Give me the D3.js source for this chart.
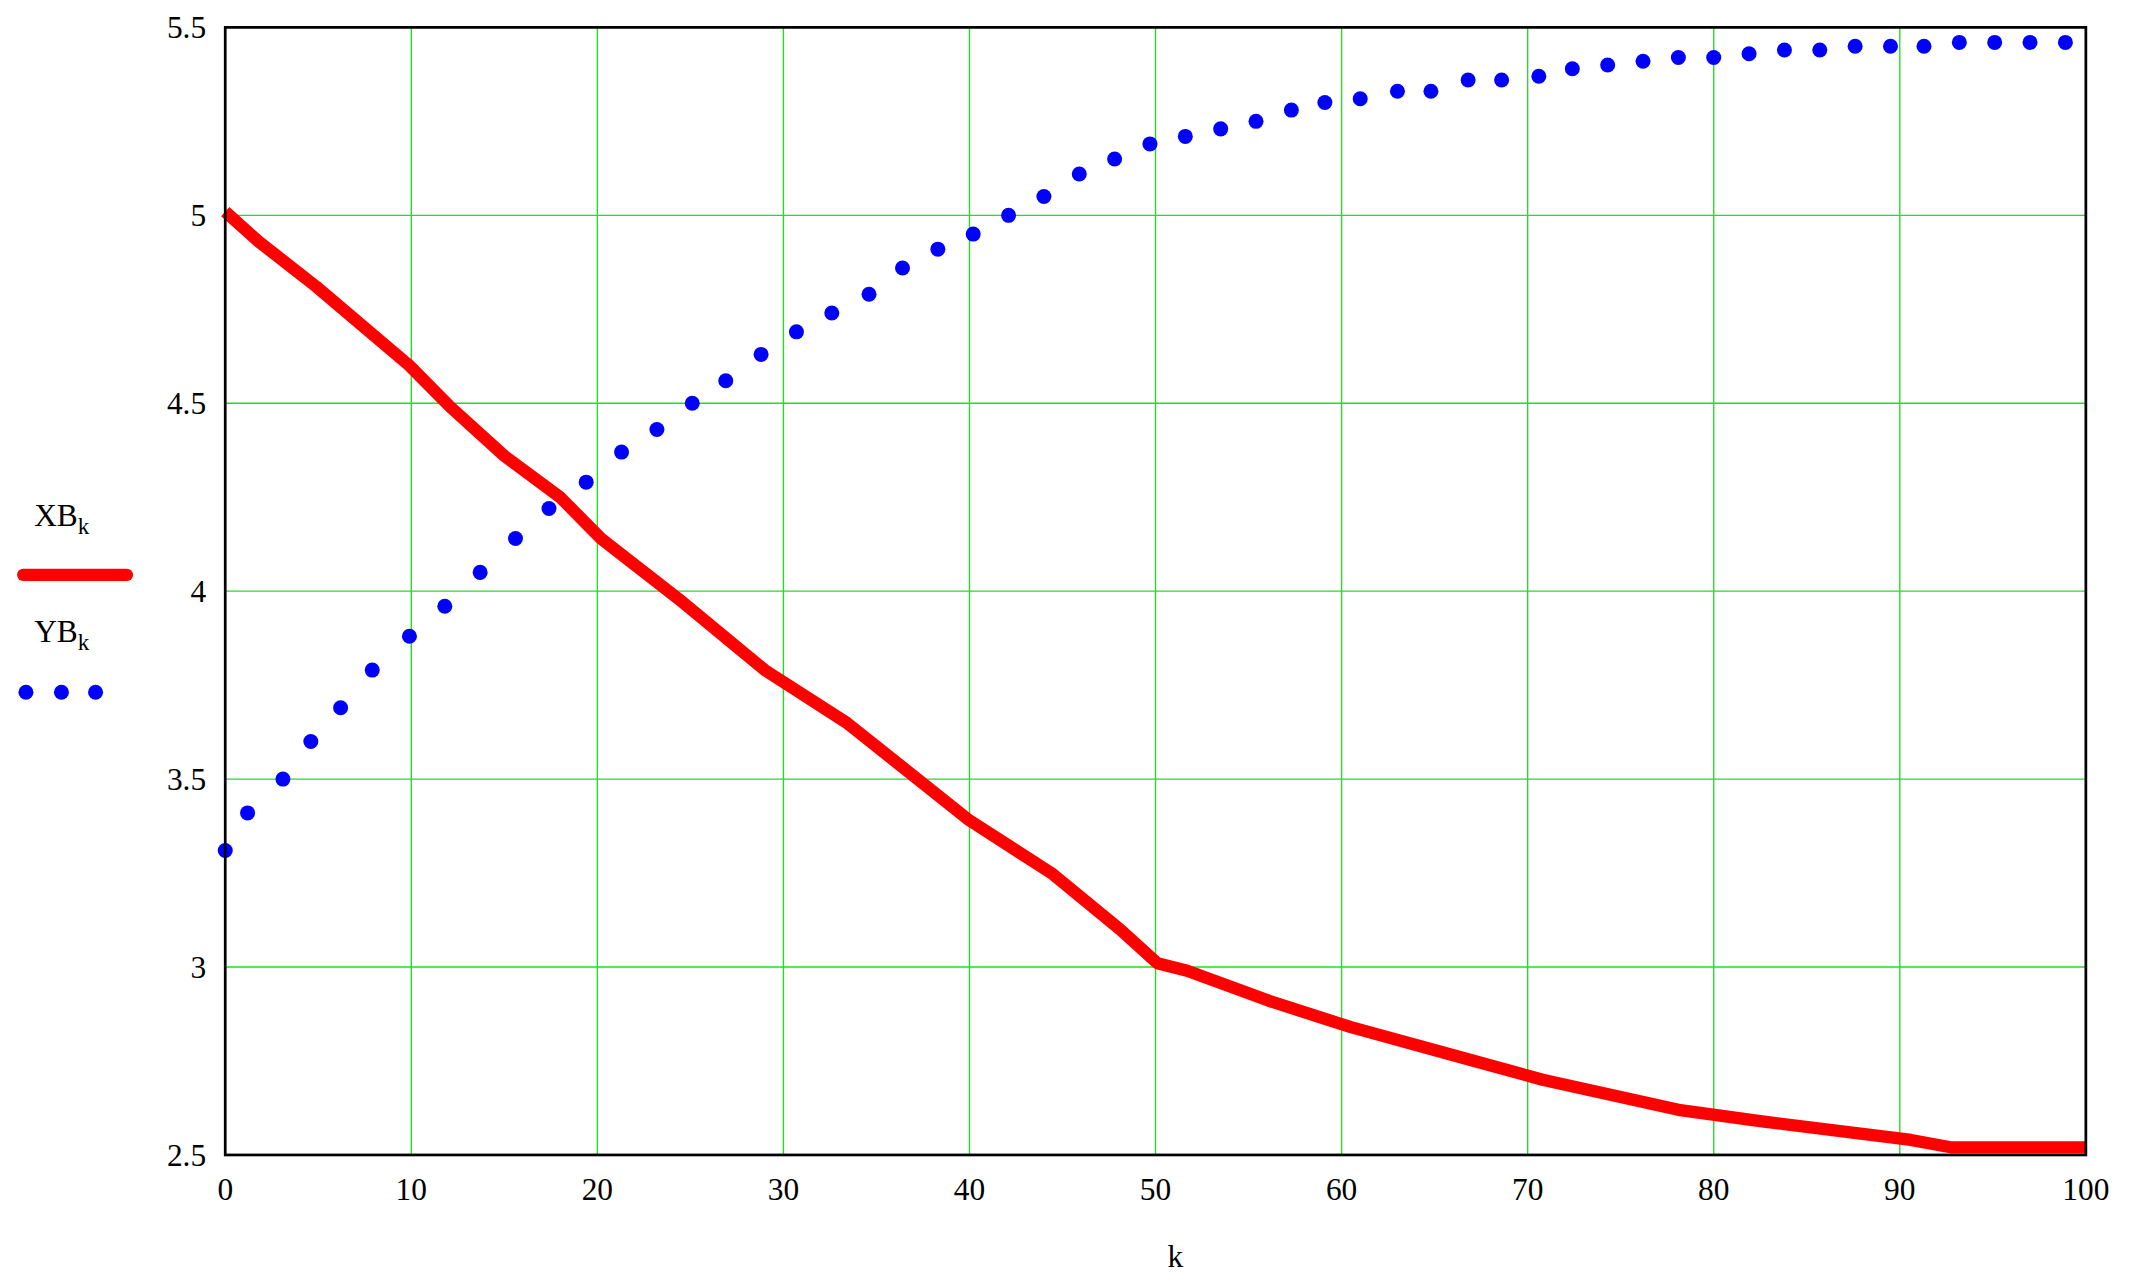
<!DOCTYPE html>
<html><head><meta charset="utf-8">
<script src="https://cdn.jsdelivr.net/npm/d3@7"></script>
<style>body{margin:0;background:#fff}</style>
</head><body><div id="vis"></div>
<script>
// series
var xbK = [0,1.8,4.9,9.9,12.1,15,18,20.2,24.6,29,33.4,40,44.4,48.1,50.1,51.7,56.1,60.5,66.4,70.8,78.1,82.5,90.6,92.8,100];
var xbV = [5.01,4.93,4.81,4.60,4.49,4.36,4.25,4.14,3.97,3.79,3.65,3.39,3.25,3.10,3.01,2.99,2.91,2.84,2.76,2.70,2.62,2.59,2.54,2.52,2.52];
var ybK = [0,1.2,3.1,4.6,6.2,7.9,9.9,11.8,13.7,15.6,17.4,19.4,21.3,23.2,25.1,26.9,28.8,30.7,32.6,34.6,36.4,38.3,40.2,42.1,44.0,45.9,47.8,49.7,51.6,53.5,55.4,57.3,59.1,61.0,63.0,64.8,66.8,68.6,70.6,72.4,74.3,76.2,78.1,80.0,81.9,83.8,85.7,87.6,89.5,91.3,93.2,95.1,97.0,98.9];
var ybV = [3.31,3.41,3.50,3.60,3.69,3.79,3.88,3.96,4.05,4.14,4.22,4.29,4.37,4.43,4.50,4.56,4.63,4.69,4.74,4.79,4.86,4.91,4.95,5.00,5.05,5.11,5.15,5.19,5.21,5.23,5.25,5.28,5.30,5.31,5.33,5.33,5.36,5.36,5.37,5.39,5.40,5.41,5.42,5.42,5.43,5.44,5.44,5.45,5.45,5.45,5.46,5.46,5.46,5.46];
var xTicks = [0,10,20,30,40,50,60,70,80,90,100];
var yTicks = [2.5,3,3.5,4,4.5,5,5.5];

var margin = {top:20, right:36, bottom:93, left:165};
var W = 1564, H = 939;
var svg = d3.select('#vis').append('svg')
  .attr('width',2135).attr('height',1282)
  .attr('viewBox','0 0 '+W+' '+H)
  .style('font-family','Liberation Serif');
var pw = W-margin.left-margin.right, ph = H-margin.top-margin.bottom;
var g = svg.append('g').attr('transform','translate('+margin.left+','+margin.top+')');
var x = d3.scaleLinear().domain([0,100]).range([0,pw]);
var y = d3.scaleLinear().domain([2.5,5.5]).range([ph,0]);

// grid
g.selectAll('.gx').data(xTicks).enter().append('line')
  .attr('x1',d=>x(d)).attr('x2',d=>x(d)).attr('y1',0).attr('y2',ph)
  .attr('stroke','#22dd22').attr('stroke-width',1);
g.selectAll('.gy').data(yTicks).enter().append('line')
  .attr('y1',d=>y(d)).attr('y2',d=>y(d)).attr('x1',0).attr('x2',pw)
  .attr('stroke','#22dd22').attr('stroke-width',1);

// red line
var xb = xbK.map((k,i)=>[k,xbV[i]]);
g.append('path').datum(xb)
  .attr('d',d3.line().x(d=>x(d[0])).y(d=>y(d[1])))
  .attr('fill','none').attr('stroke','#ff0000').attr('stroke-width',9)
  .attr('stroke-linejoin','round');

// blue dots
g.selectAll('.dot').data(ybK).enter().append('circle')
  .attr('cx',d=>x(d)).attr('cy',(d,i)=>y(ybV[i])).attr('r',5.5).attr('fill','#0000ff');

g.append('rect').attr('width',pw).attr('height',ph)
  .attr('fill','none').attr('stroke','#000').attr('stroke-width',2);

// tick labels
g.selectAll('.tx').data(xTicks).enter().append('text')
  .attr('x',d=>x(d)).attr('y',ph+33).attr('text-anchor','middle')
  .style('font-size','23px').text(d=>d);
g.selectAll('.ty').data(yTicks).enter().append('text')
  .attr('x',-14).attr('y',d=>y(d)+8).attr('text-anchor','end')
  .style('font-size','23px').text(d=>d);
svg.append('text').attr('x',861).attr('y',928).attr('text-anchor','middle')
  .style('font-size','23px').text('k');

// legend
var l1 = svg.append('text').attr('x',25).attr('y',385).style('font-size','23px');
l1.append('tspan').text('XB');
l1.append('tspan').attr('dy',6).style('font-size','17px').text('k');
svg.append('line').attr('x1',17).attr('x2',93).attr('y1',421).attr('y2',421)
  .attr('stroke','#ff0000').attr('stroke-width',9).attr('stroke-linecap','round');
var l2 = svg.append('text').attr('x',25).attr('y',470).style('font-size','23px');
l2.append('tspan').text('YB');
l2.append('tspan').attr('dy',6).style('font-size','17px').text('k');
svg.selectAll('.ld').data([19,45,70]).enter().append('circle')
  .attr('cx',d=>d).attr('cy',507).attr('r',5.5).attr('fill','#0000ff');
</script></body></html>
